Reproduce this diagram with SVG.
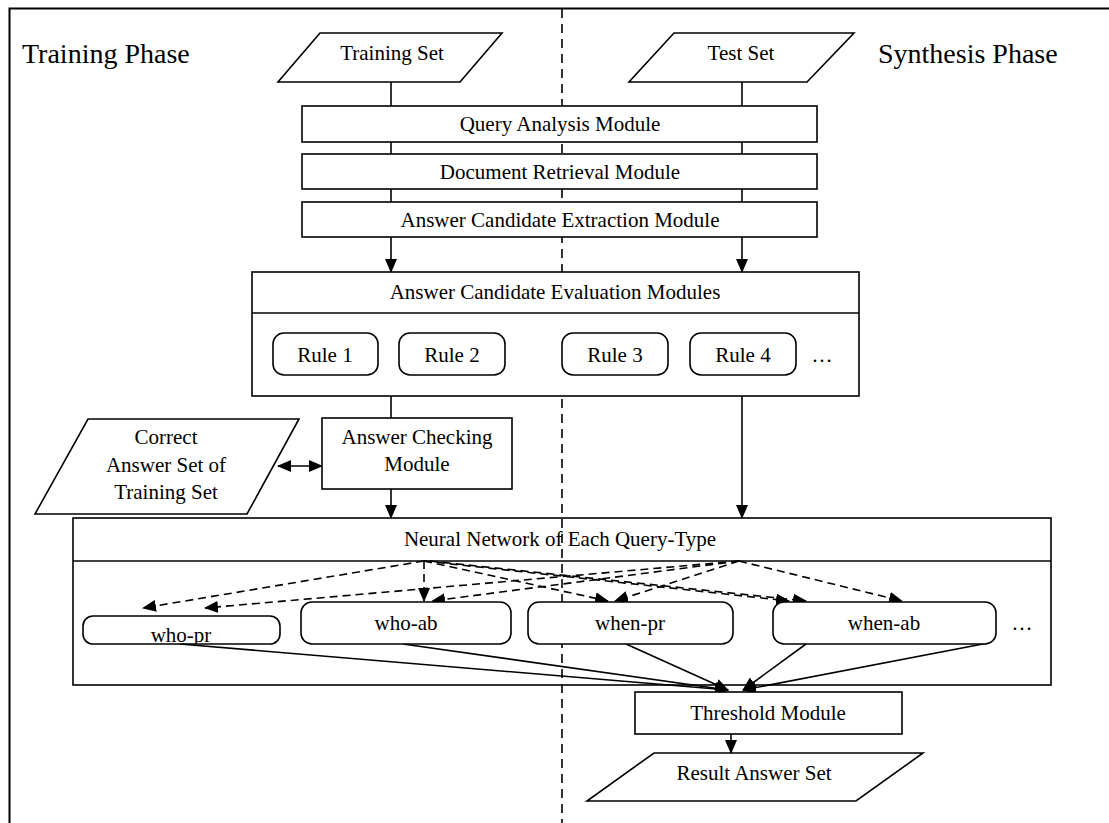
<svg xmlns="http://www.w3.org/2000/svg" width="1109" height="823" viewBox="0 0 1109 823">
  <defs>
    <style>
      .box { fill: #fff; stroke: #000; stroke-width: 1.6; }
      .txt { font-family: "Liberation Serif", "Times New Roman", serif; font-size: 21px; fill: #000; text-anchor: middle; }
      .phase { font-family: "Liberation Serif", "Times New Roman", serif; font-size: 28px; fill: #000; }
      .ln { fill: none; stroke: #000; stroke-width: 1.6; }
      .arr { fill: none; stroke: #000; stroke-width: 1.6; marker-end: url(#head); }
      .dash { fill: none; stroke: #000; stroke-width: 1.6; stroke-dasharray: 8 5; marker-end: url(#head); }
    </style>
    <marker id="head" markerWidth="14" markerHeight="12" refX="13" refY="6" orient="auto" markerUnits="userSpaceOnUse">
      <path d="M0,0 L14,6 L0,12 Z" fill="#000"/>
    </marker>
    <marker id="tail" markerWidth="14" markerHeight="12" refX="1" refY="6" orient="auto" markerUnits="userSpaceOnUse">
      <path d="M14,0 L0,6 L14,12 Z" fill="#000"/>
    </marker>
    <clipPath id="whoPrClip">
      <rect x="83" y="616" width="197" height="28" rx="10"/>
    </clipPath>
  </defs>

  <rect width="1109" height="823" fill="#fff"/>

  <!-- outer frame and phase divider -->
  <path d="M9.5,830 V8.5 H1120" fill="none" stroke="#000" stroke-width="2"/>
  <line x1="562" y1="9" x2="562" y2="823" stroke="#000" stroke-width="1.6" stroke-dasharray="9 6"/>

  <text class="phase" x="22" y="63">Training Phase</text>
  <text class="phase" x="878" y="63">Synthesis Phase</text>

  <!-- connectors -->
  <g id="connectors">
    <line class="ln" x1="391" y1="82" x2="391" y2="106"/>
    <line class="ln" x1="742" y1="82" x2="742" y2="106"/>
    <line class="ln" x1="391" y1="142" x2="391" y2="154"/>
    <line class="ln" x1="742" y1="142" x2="742" y2="154"/>
    <line class="ln" x1="391" y1="189" x2="391" y2="202"/>
    <line class="ln" x1="742" y1="189" x2="742" y2="202"/>
    <line class="arr" x1="391" y1="237" x2="391" y2="272"/>
    <line class="arr" x1="742" y1="237" x2="742" y2="272"/>
    <line class="ln" x1="391" y1="396" x2="391" y2="418"/>
    <line class="arr" x1="742" y1="396" x2="742" y2="518"/>
    <line class="arr" x1="391" y1="489" x2="391" y2="518"/>
    <line class="arr" x1="278" y1="466" x2="322" y2="466" style="marker-start:url(#tail)"/>

    <!-- query-type network fan-out -->
    <line class="dash" x1="424" y1="561" x2="143" y2="608"/>
    <line class="dash" x1="424" y1="561" x2="424" y2="601"/>
    <line class="dash" x1="424" y1="561" x2="608" y2="601"/>
    <line class="dash" x1="424" y1="561" x2="789" y2="601"/>
    <line class="dash" x1="430" y1="561" x2="806" y2="601"/>
    <line class="dash" x1="739" y1="561" x2="205" y2="608"/>
    <line class="dash" x1="739" y1="561" x2="432" y2="601"/>
    <line class="dash" x1="739" y1="561" x2="615" y2="601"/>
    <line class="dash" x1="739" y1="561" x2="902" y2="601"/>

    <!-- fan-in to threshold -->
    <line class="arr" x1="180" y1="644" x2="728" y2="690"/>
    <line class="arr" x1="403" y1="644" x2="728" y2="690"/>
    <line class="arr" x1="626" y1="644" x2="728" y2="690"/>
    <line class="arr" x1="806" y1="644" x2="743" y2="690"/>
    <line class="arr" x1="988" y1="643" x2="743" y2="690"/>

    <line class="arr" x1="731" y1="734" x2="731" y2="753"/>
  </g>

  <g id="training-set">
    <polygon class="box" points="320,33 502,33 460,82 278,82"/>
    <text class="txt" x="392" y="60">Training Set</text>
  </g>
  <g id="test-set">
    <polygon class="box" points="674,33 854,33 807,82 629,82"/>
    <text class="txt" x="741" y="60">Test Set</text>
  </g>

  <g id="query-analysis">
    <rect class="box" x="302" y="106" width="515" height="36"/>
    <text class="txt" x="560" y="131">Query Analysis Module</text>
  </g>
  <g id="document-retrieval">
    <rect class="box" x="302" y="154" width="515" height="35"/>
    <text class="txt" x="560" y="179">Document Retrieval Module</text>
  </g>
  <g id="candidate-extraction">
    <rect class="box" x="302" y="202" width="515" height="35"/>
    <text class="txt" x="560" y="227">Answer Candidate Extraction Module</text>
  </g>

  <g id="candidate-evaluation">
    <rect class="box" x="252" y="272" width="607" height="124"/>
    <line class="ln" x1="252" y1="313" x2="859" y2="313"/>
    <text class="txt" x="555" y="299">Answer Candidate Evaluation Modules</text>
  </g>
  <g id="rule-1">
    <rect class="box" x="273" y="333" width="105" height="42" rx="11"/>
    <text class="txt" x="325" y="362">Rule 1</text>
  </g>
  <g id="rule-2">
    <rect class="box" x="399" y="333" width="106" height="42" rx="11"/>
    <text class="txt" x="452" y="362">Rule 2</text>
  </g>
  <g id="rule-3">
    <rect class="box" x="562" y="333" width="106" height="42" rx="11"/>
    <text class="txt" x="615" y="362">Rule 3</text>
  </g>
  <g id="rule-4">
    <rect class="box" x="690" y="333" width="106" height="42" rx="11"/>
    <text class="txt" x="743" y="362">Rule 4</text>
  </g>
  <text class="txt" x="822" y="362">…</text>

  <g id="answer-checking">
    <rect class="box" x="322" y="418" width="190" height="71"/>
    <text class="txt" x="417" y="444">Answer Checking</text>
    <text class="txt" x="417" y="471">Module</text>
  </g>
  <g id="correct-answer-set">
    <polygon class="box" points="88,419 299,419 247,514 35,514"/>
    <text class="txt" x="166" y="444">Correct</text>
    <text class="txt" x="166" y="472">Answer Set of</text>
    <text class="txt" x="166" y="499">Training Set</text>
  </g>

  <g id="neural-network">
    <rect x="73" y="518" width="978" height="167" fill="none" stroke="#000" stroke-width="1.6"/>
    <line class="ln" x1="73" y1="561" x2="1051" y2="561"/>
    <text class="txt" x="560" y="546">Neural Network of Each Query-Type</text>
  </g>
  <g id="who-pr">
    <text class="txt" x="181" y="642" clip-path="url(#whoPrClip)">who-pr</text>
    <rect x="83" y="616" width="197" height="28" rx="10" fill="none" stroke="#000" stroke-width="1.6"/>
  </g>
  <g id="who-ab">
    <rect class="box" x="301" y="602" width="210" height="42" rx="11"/>
    <text class="txt" x="406" y="630">who-ab</text>
  </g>
  <g id="when-pr">
    <rect class="box" x="528" y="602" width="205" height="42" rx="11"/>
    <text class="txt" x="630" y="630">when-pr</text>
  </g>
  <g id="when-ab">
    <rect class="box" x="773" y="602" width="223" height="42" rx="11"/>
    <text class="txt" x="884" y="630">when-ab</text>
  </g>
  <text class="txt" x="1022" y="630">…</text>

  <g id="threshold">
    <rect class="box" x="635" y="692" width="267" height="42"/>
    <text class="txt" x="768" y="720">Threshold Module</text>
  </g>
  <g id="result-answer-set">
    <polygon class="box" points="654,753 923,753 856,801 587,801"/>
    <text class="txt" x="754" y="780">Result Answer Set</text>
  </g>
</svg>
